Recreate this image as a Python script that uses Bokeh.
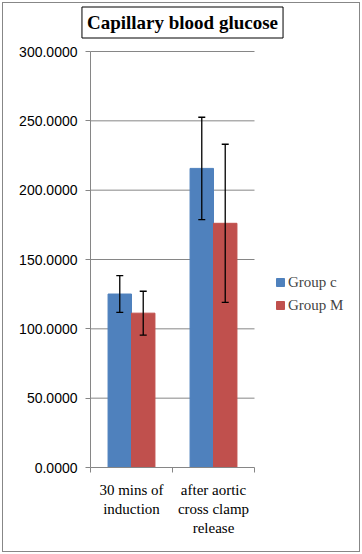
import numpy as np
from bokeh.plotting import figure
from bokeh.models import (ColumnDataSource, Range1d, FixedTicker, NumeralTickFormatter,
                          Whisker, TeeHead, Legend, LegendItem, Label)
from bokeh.embed import file_html
from bokeh.resources import INLINE

# ---- data ----
categories = ["30 mins of\ninduction", "after aortic\ncross clamp\nrelease"]
group_names = ["Group c", "Group M"]
group_c_mean = [125.1, 215.7]
group_c_err = [13.3, 36.9]
group_m_mean = [111.3, 176.1]
group_m_err = [15.8, 57.0]
y_ticks = [0, 50, 100, 150, 200, 250, 300]
title_text = "Capillary blood glucose"

colors = ["#4F81BD", "#C0504D"]
GRAY = "#868686"
bar_w = 0.286
n = len(categories)
centers = np.arange(n) + 0.5
y_max = y_ticks[-1]

# pixel layout: frame covers plot area plus room for labels, title and legend
W, H = 362, 554
left, right, top, bottom = 6, 4, 5, 5
axis_px = 90           # y-axis position in canvas pixels
zero_px = 467          # y=0 position in canvas pixels
cat_px = 82.0          # pixels per category
plot_px = 416.0        # pixels for 0..y_max
frame_w = W - left - right
frame_h = H - top - bottom
x0 = -(axis_px - left) / cat_px
y0 = -(H - bottom - zero_px) / plot_px * y_max
p = figure(width=W, height=H,
           x_range=Range1d(x0, x0 + frame_w / cat_px),
           y_range=Range1d(y0, (zero_px - top) / plot_px * y_max),
           output_backend="svg", toolbar_location=None,
           min_border_left=left, min_border_right=right,
           min_border_top=top, min_border_bottom=bottom)
p.outline_line_color = None
p.background_fill_color = "white"
p.border_fill_alpha = 0
p.styles = {"background-color": "white",
            "box-shadow": "inset 0 0 0 2px white, inset 0 0 0 3px #878787"}
p.xgrid.visible = False
p.ygrid.visible = False

# gridlines limited to the plot area
p.segment(x0=0, x1=n, y0=y_ticks[1:], y1=y_ticks[1:], line_color=GRAY, line_width=1)

series = [(group_c_mean, group_c_err, -bar_w / 2), (group_m_mean, group_m_err, bar_w / 2)]
renderers = []
for (mean, err, off), col in zip(series, colors):
    xs = centers + off
    src = ColumnDataSource(dict(x=xs, top=mean,
                                lower=np.array(mean) - np.array(err),
                                upper=np.array(mean) + np.array(err)))
    r = p.vbar(x="x", top="top", width=bar_w, source=src,
               fill_color=col, line_color=col)
    renderers.append(r)
    w = Whisker(base="x", lower="lower", upper="upper", source=src,
                line_color="black", line_width=1.3, level="overlay",
                upper_head=TeeHead(size=7, line_color="black", line_width=1.3),
                lower_head=TeeHead(size=7, line_color="black", line_width=1.3))
    p.add_layout(w)

# y axis (pinned at x=0)
p.yaxis.fixed_location = 0
p.yaxis.bounds = (0, y_max)
p.yaxis.ticker = FixedTicker(ticks=y_ticks, minor_ticks=[])
p.yaxis.formatter = NumeralTickFormatter(format="0.0000")
p.yaxis.major_tick_out = 5
p.yaxis.major_tick_in = 0
p.yaxis.minor_tick_out = 0
p.yaxis.minor_tick_in = 0
p.yaxis.axis_line_color = GRAY
p.yaxis.major_tick_line_color = GRAY
p.yaxis.major_label_standoff = 8
p.yaxis.major_label_text_font = "Liberation Sans"
p.yaxis.major_label_text_font_size = "14px"
p.yaxis.major_label_text_color = "black"

# x axis (pinned at y=0)
p.xaxis.fixed_location = 0
p.xaxis.bounds = (0, n)
p.xaxis.ticker = FixedTicker(ticks=list(centers), minor_ticks=list(range(n + 1)))
p.xaxis.major_label_overrides = {float(c): lab for c, lab in zip(centers, categories)}
p.xaxis.major_tick_out = 0
p.xaxis.major_tick_in = 0
p.xaxis.minor_tick_out = 5
p.xaxis.minor_tick_in = 0
p.xaxis.minor_tick_line_color = GRAY
p.xaxis.axis_line_color = GRAY
p.xaxis.major_label_standoff = 9
p.xaxis.major_label_text_font = "Liberation Serif"
p.xaxis.major_label_text_font_size = "15px"
p.xaxis.major_label_text_color = "black"

# legend (inside the wide frame, right of plot area)
items = [LegendItem(label=nm, renderers=[r]) for nm, r in zip(group_names, renderers)]
legend = Legend(items=items, location=(275 - left, H - bottom - 315), orientation="vertical",
                glyph_width=10, glyph_height=10, label_standoff=3, spacing=3,
                padding=0, margin=0, border_line_alpha=0, background_fill_alpha=0,
                label_text_font="Liberation Serif", label_text_font_size="15px",
                label_height=20)
p.add_layout(legend)

# title box
title = Label(x=182 - left, y=H - bottom - 22, x_units="screen", y_units="screen",
              text=title_text, text_align="center", text_baseline="middle",
              text_font="Liberation Serif", text_font_style="bold",
              text_font_size="19px", text_color="black",
              border_line_color="black", border_line_width=1,
              background_fill_color="white", padding=5)
p.add_layout(title)

open("out.html", "w").write(file_html(p, INLINE))
